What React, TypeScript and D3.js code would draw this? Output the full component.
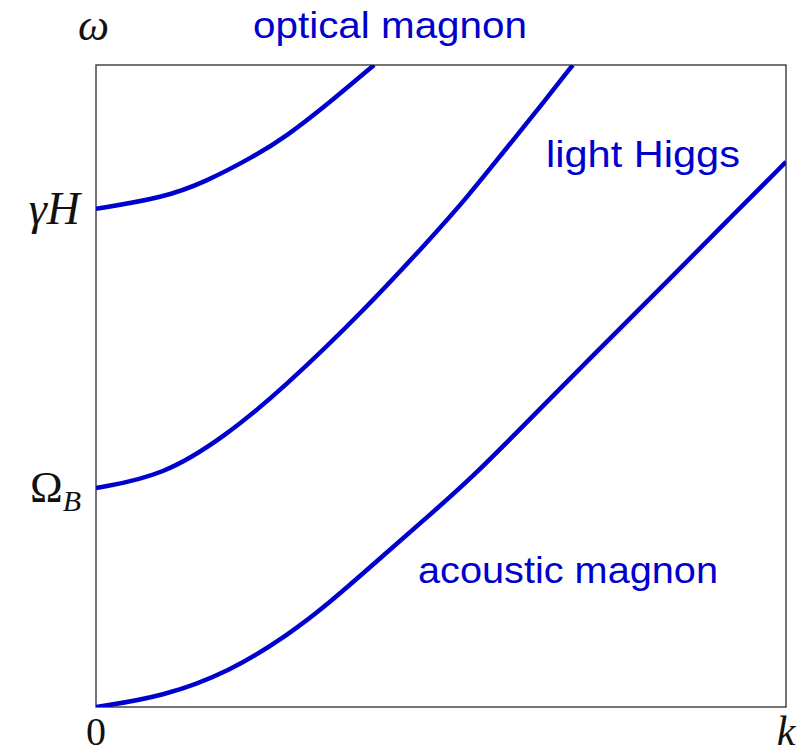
import React from "react";
import * as d3 from "d3";

// Dispersion branches: k (normalised) vs ω (normalised)
const acousticK = [0, 0.097, 0.194, 0.278, 0.336, 0.407, 0.478, 0.543, 0.635, 0.712, 0.842, 0.919, 1.0];
const acousticW = [0, 0.016, 0.055, 0.112, 0.16, 0.227, 0.294, 0.355, 0.455, 0.539, 0.678, 0.762, 0.849];

const higgsK = [0, 0.097, 0.188, 0.272, 0.388, 0.486, 0.538, 0.593, 0.628, 0.691];
const higgsW = [0.341, 0.36, 0.422, 0.497, 0.617, 0.731, 0.794, 0.868, 0.914, 1.0];

const opticalK = [0, 0.097, 0.159, 0.228, 0.275, 0.338, 0.403];
const opticalW = [0.776, 0.793, 0.818, 0.857, 0.888, 0.941, 1.0];

const W = 809;
const H = 755;
const margin = { left: 96, right: 23, top: 65, bottom: 48 };
const blue = "#0000cc";

export default function App() {
  const x = d3.scaleLinear().domain([0, 1]).range([margin.left, W - margin.right]);
  const y = d3.scaleLinear().domain([0, 1]).range([H - margin.bottom, margin.top]);

  const line = d3
    .line<[number, number]>()
    .x((d) => x(d[0]))
    .y((d) => y(d[1]))
    .curve(d3.curveBasis);

  const series = [
    d3.zip(acousticK, acousticW) as [number, number][],
    d3.zip(higgsK, higgsW) as [number, number][],
    d3.zip(opticalK, opticalW) as [number, number][],
  ];

  const serif = "'Liberation Serif', 'DejaVu Serif', serif";
  const sans = "'Liberation Sans', 'DejaVu Sans', sans-serif";

  return (
    <svg
      width={W}
      height={H}
      viewBox={`0 0 ${W} ${H}`}
      style={{ position: "absolute", left: 0, top: 0, background: "#fff" }}
    >
      <defs>
        <clipPath id="plot">
          <rect x={x(0)} y={y(1)} width={x(1) - x(0)} height={y(0) - y(1)} />
        </clipPath>
      </defs>
      <rect
        x={x(0)}
        y={y(1)}
        width={x(1) - x(0)}
        height={y(0) - y(1)}
        fill="none"
        stroke="#3a3a3a"
        strokeWidth={1.4}
      />
      <g clipPath="url(#plot)">
        {series.map((s, i) => (
          <path
            key={i}
            d={line(s) ?? ""}
            fill="none"
            stroke={blue}
            strokeWidth={4.5}
            strokeLinecap="butt"
          />
        ))}
      </g>

      {/* branch labels */}
      <text x={253} y={38} fontFamily={sans} fontSize={36} fill={blue} textLength={274} lengthAdjust="spacingAndGlyphs">
        optical magnon
      </text>
      <text x={546} y={167} fontFamily={sans} fontSize={36} fill={blue} textLength={194} lengthAdjust="spacingAndGlyphs">
        light Higgs
      </text>
      <text x={418} y={583} fontFamily={sans} fontSize={36} fill={blue} textLength={300} lengthAdjust="spacingAndGlyphs">
        acoustic magnon
      </text>

      {/* axis symbols */}
      <text x={78} y={40} fontFamily={serif} fontStyle="italic" fontSize={44} fill="#111">
        ω
      </text>
      <text x={x(0) - 16} y={y(opticalW[0]) + 15} fontFamily={serif} fontStyle="italic" fontSize={46} fill="#111" textAnchor="end">
        γH
      </text>
      <text x={x(0) - 15} y={y(higgsW[0]) + 14} fontFamily={serif} fontSize={44} fill="#111" textAnchor="end">
        Ω
        <tspan fontStyle="italic" fontSize={30} dy={9}>
          B
        </tspan>
      </text>
      <text x={x(0)} y={745} fontFamily={serif} fontSize={40} fill="#111" textAnchor="middle">
        0
      </text>
      <text x={x(1)} y={745} fontFamily={serif} fontStyle="italic" fontSize={42} fill="#111" textAnchor="middle">
        k
      </text>
    </svg>
  );
}
